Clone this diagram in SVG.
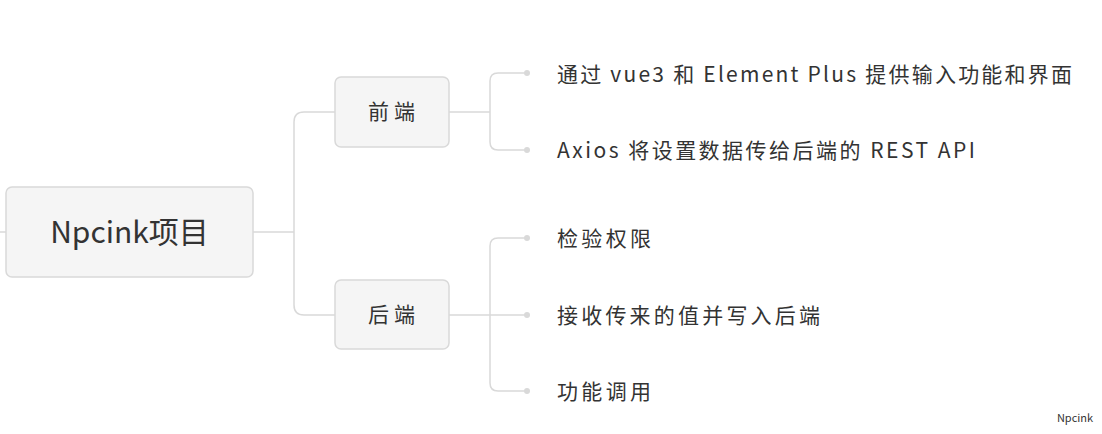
<svg xmlns="http://www.w3.org/2000/svg" width="1102" height="434" viewBox="0 0 1102 434">
<style>
.n{fill:#f5f5f5;stroke:#d9d9d9;stroke-width:1.5}
.c{fill:none;stroke:#d9d9d9;stroke-width:1.5}
.d{fill:#d9d9d9}
text{font-family:"Noto Sans CJK SC","Liberation Sans",sans-serif;fill:#333}
.l{font-size:21px}
</style>
<rect width="1102" height="434" fill="#fff"/>
<g id="connectors">
<path class="c" d="M0 232H6"/>
<path class="c" d="M253 232H294M335 112H304Q294 112 294 122V305Q294 315 304 315H335"/>
<path class="c" d="M449 112H490M527 73H498Q490 73 490 81V142Q490 150 498 150H527"/>
<path class="c" d="M449 315H527M527 238H498Q490 238 490 246V383Q490 391 498 391H527"/>
<circle class="d" cx="527" cy="73" r="3"/><circle class="d" cx="527" cy="150" r="3"/>
<circle class="d" cx="527" cy="238" r="3"/><circle class="d" cx="527" cy="315" r="3"/><circle class="d" cx="527" cy="391" r="3"/>
</g>
<g id="root"><rect class="n" x="6" y="187" width="247" height="90" rx="6"/><text x="129.5" y="243" font-size="30" text-anchor="middle">Npcink项目</text></g>
<g id="frontend"><rect class="n" x="335" y="77" width="114" height="70" rx="6"/><text x="368" y="119" font-size="21" textLength="47" lengthAdjust="spacing">前端</text></g>
<g id="backend"><rect class="n" x="335" y="280" width="114" height="69" rx="6"/><text x="368" y="322" font-size="21" textLength="47" lengthAdjust="spacing">后端</text></g>
<g id="f1"><text class="l" x="557" y="82" textLength="515" lengthAdjust="spacing">通过 vue3 和 Element Plus 提供输入功能和界面</text></g>
<g id="f2"><text class="l" x="557" y="158" textLength="418" lengthAdjust="spacing">Axios 将设置数据传给后端的 REST API</text></g>
<g id="b1"><text class="l" x="557" y="246" textLength="94" lengthAdjust="spacing">检验权限</text></g>
<g id="b2"><text class="l" x="557" y="323" textLength="263" lengthAdjust="spacing">接收传来的值并写入后端</text></g>
<g id="b3"><text class="l" x="557" y="399" textLength="94" lengthAdjust="spacing">功能调用</text></g>
<text x="1075" y="422" font-size="11" fill="#666" text-anchor="middle">Npcink</text>
</svg>
